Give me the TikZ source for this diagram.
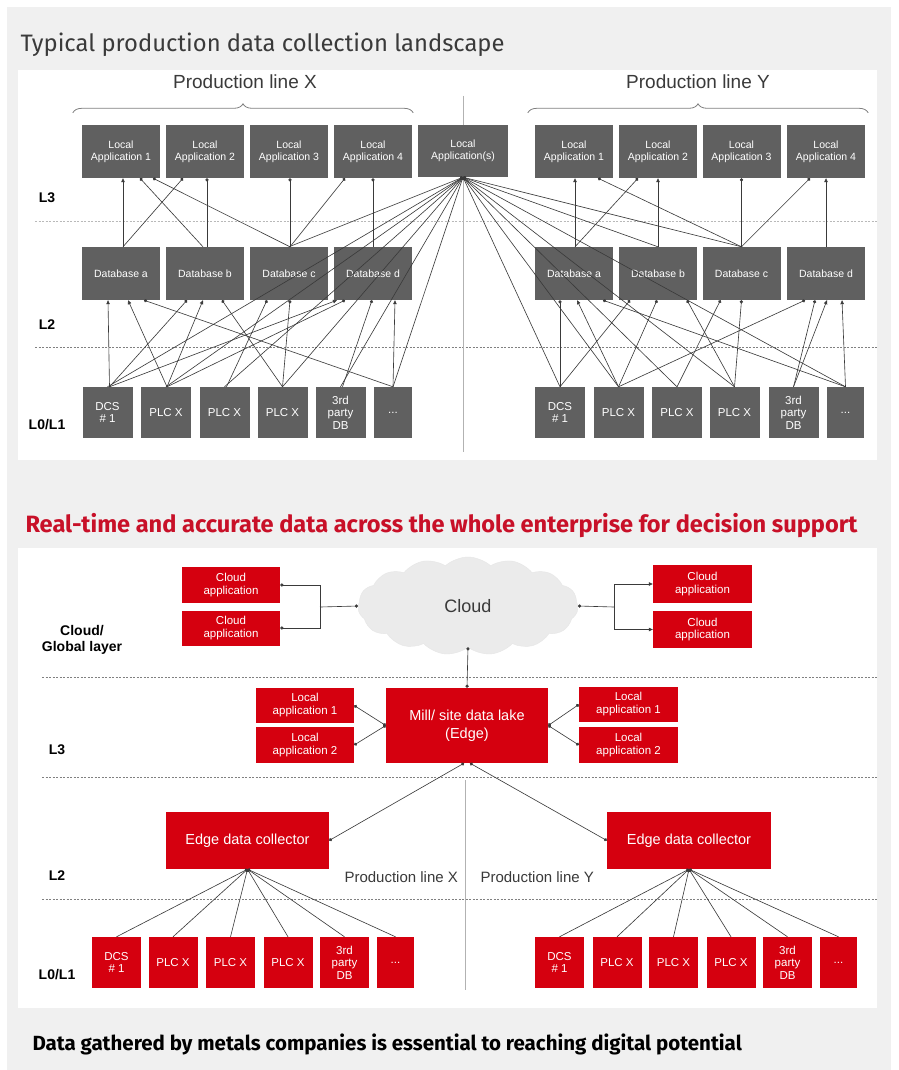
\documentclass[tikz,border=0pt]{standalone}
\usepackage{fontspec}
\setmainfont{Liberation Sans}
\newfontfamily\headfont{Fira Sans}
\usetikzlibrary{arrows.meta,shapes.symbols,decorations.pathreplacing}
\definecolor{bggray}{HTML}{F0F0F0}
\definecolor{boxgray}{HTML}{606060}
\definecolor{boxred}{RGB}{213,0,15}
\definecolor{titlered}{RGB}{200,16,40}
\definecolor{titlegray}{HTML}{3A3A3A}
\definecolor{linegray}{HTML}{3A3A3A}
\definecolor{cloudgray}{HTML}{EBEBEB}
\begin{document}
\begin{tikzpicture}[x=1pt,y=-1pt,
        gbox/.style = {fill=boxgray, text=white, align=center, inner sep=0pt, minimum width=78pt, minimum height=53pt, font=\fontsize{10.5}{12}\selectfont},
        gsmall/.style = {gbox, minimum width=50pt, minimum height=51pt, font=\fontsize{11.5}{12.5}\selectfont},
        rbox/.style = {gbox, fill=boxred},
        rsmall/.style = {gsmall, fill=boxred, minimum width=49pt},
        cloudbox/.style = {shape=cloud, cloud puffs=15, cloud puff arc=85, aspect=2.3, fill=cloudgray, draw=cloudgray!95!gray, minimum width=220pt, minimum height=98pt, inner sep=0pt, text=titlegray, font=\fontsize{18}{20}\selectfont},
        lvl/.style = {font=\bfseries\fontsize{14}{16}\selectfont, align=center},
        line label/.style = {text=titlegray, font=\fontsize{19}{21}\selectfont},
        wire/.style = {draw=linegray, line width=0.62pt},
        dotend/.style = {wire, -{Circle[length=3.2pt]}},
        triend/.style = {wire, -{Triangle[length=4pt,width=3.5pt]}},
        fan/.style = {wire, {Circle[length=3.2pt]}-},
        twoway/.style = {wire, {Circle[length=3.2pt]}-{Circle[length=3.2pt]}},
        layerline/.style = {draw=gray, line width=0.6pt, dash pattern=on 2pt off 1.5pt},
        midline/.style = {draw=gray!60, line width=0.6pt}
    ]
    \useasboundingbox (0,0) rectangle (898,1070);
    \fill[bggray] (7,7) rectangle (891,1070);
    \fill[white] (18,70) rectangle (877,460);
    \fill[white] (18,548) rectangle (877,1008);

    % typical landscape
    \node[anchor=base west, text=titlegray, font=\headfont\fontsize{23.8}{26}\selectfont] (title) at (17,52) {Typical production data collection landscape};
    \node[line label] (plx) at (245,82) {Production line X};
    \node[line label] (ply) at (698,82) {Production line Y};
    \draw[layerline, draw=gray!55] (35,221) -- (877,221);
    \draw[layerline] (35,347) -- (877,347);
    \draw[midline] (463,96) -- (463,452);
    \node[lvl] (l3) at (47,198) {L3};
    \node[lvl] (l2) at (47,325) {L2};
    \node[lvl] (l01) at (47,425) {L0/L1};

    \foreach \i/\px in {1/121,2/205,3/289,4/373}
        \node[gbox] (xa\i) at (\px,151.5) {Local\\Application \i};
    \foreach \i/\px in {1/574,2/658,3/741.5,4/826}
        \node[gbox] (ya\i) at (\px,151.5) {Local\\Application \i};
    \node[gbox, minimum width=90pt, minimum height=52pt] (apps) at (463,151) {Local\\Application(s)};
    \foreach \l/\px in {a/121,b/205,c/289,d/373}
        \node[gbox] (xd\l) at (\px,273.5) {Database \l};
    \foreach \l/\px in {a/574,b/658,c/741.5,d/826}
        \node[gbox] (yd\l) at (\px,273.5) {Database \l};
    \foreach \i/\px/\txt in {1/107.5/{DCS\\\# 1},2/166/PLC X,3/224.5/PLC X,4/282.5/PLC X,5/340.5/{3rd\\party\\DB}}
        \node[gsmall] (xb\i) at (\px,412.5) {\txt};
    \node[gsmall, minimum width=38pt] (xb6) at (393,412.5) {...};
    \foreach \i/\px/\txt in {1/560/{DCS\\\# 1},2/618.5/PLC X,3/677/PLC X,4/734.5/PLC X,5/793.5/{3rd\\party\\DB}}
        \node[gsmall] (yb\i) at (\px,412.5) {\txt};
    \node[gsmall, minimum width=37pt] (yb6) at (845.5,412.5) {...};

    \draw[decorate, decoration={brace, amplitude=9pt}, line width=0.8pt, draw=gray] ([xshift=-9pt,yshift=12pt]xa1.north west) -- ([xshift=1pt,yshift=12pt]xa4.north east);
    \draw[decorate, decoration={brace, amplitude=9pt}, line width=0.8pt, draw=gray] ([xshift=-7pt,yshift=12pt]ya1.north west) -- ([xshift=3pt,yshift=12pt]ya4.north east);

    % L2 -> L3
    \foreach \s/\sx/\t/\tx/\tip in {xda/2/xa1/2/triend, xda/2/xa2/-22/dotend, xdb/2/xa2/2/dotend, xdb/-2/xa1/19/dotend,
            xdc/1/xa1/32/dotend, xdc/1/xa3/1/dotend, xdc/1/xa4/-28/dotend, xdd/0/xa4/0/dotend,
            yda/1/ya1/1/triend, yda/1/ya2/-20/dotend, ydb/0/ya2/0/triend, ydc/0/ya1/24/dotend,
            ydc/0/ya3/0/dotend, ydc/0/ya4/-16/dotend, ydd/0/ya4/0/triend}
        \draw[\tip] ([xshift=\sx pt]\s.north) -- ([xshift=\tx pt]\t.south);
    % L0/L1 -> L2
    \foreach \s/\sx/\t/\tx/\tip in {xb1/2/xda/-13/triend, xb2/1/xda/7/triend, xb6/0/xda/23/dotend, xb1/2/xdb/-18/dotend,
            xb2/1/xdb/-2/triend, xb4/0/xdb/17/dotend, xb3/2/xdc/-22/dotend, xb4/0/xdc/1/dotend,
            xb1/2/xdd/-36/triend, xb2/1/xdd/-28/dotend, xb5/2/xdd/-1/dotend, xb6/0/xdd/22/triend,
            yb1/0/yda/-14/dotend, yb2/0/yda/3/triend, yb6/0/yda/29/dotend, yb1/0/ydb/-28/dotend,
            yb2/0/ydb/-1/dotend, yb4/0/ydb/29/dotend, yb3/0/ydc/-21/dotend, yb4/0/ydc/0/dotend,
            yb2/0/ydd/-21/dotend, yb5/0/ydd/-11/dotend, yb5/0/ydd/1/triend, yb6/0/ydd/16/triend}
        \draw[\tip] ([xshift=\sx pt]\s.north) -- ([xshift=\tx pt]\t.south);
    \foreach \t in {xdc,xb1,xb2,xb3,xb4,xb5,xb6,ydb,ydc,yb1,yb2,yb3,yb4,yb6}
        \draw[fan] (apps.south) -- (\t.north);

    % real-time landscape
    \node[anchor=base west, text=titlered, font=\headfont\bfseries\fontsize{23.6}{26}\selectfont] (subtitle) at (22,532) {Real-time and accurate data across the whole enterprise for decision support};
    \draw[layerline] (42,677) -- (877,677);
    \draw[layerline] (42,777) -- (877,777);
    \draw[layerline] (42,899) -- (877,899);
    \draw[midline] (465,780) -- (465,990);
    \node[lvl] (gl) at (82,640) {Cloud/\\Global layer};
    \node[lvl] (rl3) at (57,750) {L3};
    \node[lvl] (rl2) at (57,876) {L2};
    \node[lvl] (rl01) at (57,975) {L0/L1};

    \node[cloudbox] (cloud) at (468,606) {Cloud};
    \node[rbox, minimum width=98pt, minimum height=36pt, font=\fontsize{11.5}{12.5}\selectfont] (lc1) at (231,585) {Cloud\\application};
    \node[rbox, minimum width=98pt, minimum height=35pt, font=\fontsize{11.5}{12.5}\selectfont] (lc2) at (231,628) {Cloud\\application};
    \node[rbox, minimum width=99pt, minimum height=38pt, font=\fontsize{11.5}{12.5}\selectfont] (rc1) at (702.5,584) {Cloud\\application};
    \node[rbox, minimum width=99pt, minimum height=37pt, font=\fontsize{11.5}{12.5}\selectfont] (rc2) at (702.5,629.5) {Cloud\\application};
    \node[rbox, minimum width=162pt, minimum height=75pt, font=\fontsize{14.5}{18}\selectfont] (lake) at (467,725.5) {Mill/ site data lake\\(Edge)};
    \node[rbox, minimum width=98pt, minimum height=35pt, font=\fontsize{11.5}{13}\selectfont] (ll1) at (305,705.5) {Local\\application 1};
    \node[rbox, minimum width=98pt, minimum height=36pt, font=\fontsize{11.5}{13}\selectfont] (ll2) at (305,745) {Local\\application 2};
    \node[rbox, minimum width=99pt, minimum height=35pt, font=\fontsize{11.5}{13}\selectfont] (rl1) at (628.5,704.5) {Local\\application 1};
    \node[rbox, minimum width=99pt, minimum height=36pt, font=\fontsize{11.5}{13}\selectfont] (rl2) at (628.5,745) {Local\\application 2};
    \node[rbox, minimum width=163pt, minimum height=57pt, font=\fontsize{14.5}{17}\selectfont] (edcx) at (247.5,840.5) {Edge data collector};
    \node[rbox, minimum width=164pt, minimum height=57pt, font=\fontsize{14.5}{17}\selectfont] (edcy) at (689,840.5) {Edge data collector};
    \node[text=titlegray, font=\fontsize{15}{17}\selectfont, anchor=west] (pbx) at (341,877) {Production line X};
    \node[text=titlegray, font=\fontsize{15}{17}\selectfont, anchor=west] (pby) at (477,877) {Production line Y};
    \foreach \i/\px/\txt in {1/116.5/{DCS\\\# 1},2/173/PLC X,3/230.5/PLC X,4/288/PLC X,5/344.5/{3rd\\party\\DB}}
        \node[rsmall] (rxb\i) at (\px,962.5) {\txt};
    \node[rsmall, minimum width=37pt] (rxb6) at (395.5,962.5) {...};
    \foreach \i/\px/\txt in {1/559.5/{DCS\\\# 1},2/617/PLC X,3/673.5/PLC X,4/731/PLC X,5/787.5/{3rd\\party\\DB}}
        \node[rsmall] (ryb\i) at (\px,962.5) {\txt};
    \node[rsmall, minimum width=37pt] (ryb6) at (838.5,962.5) {...};

    \coordinate (jl) at (320,607);
    \coordinate (jr) at (614,607);
    \draw[fan] (cloud.west) -- (jl);
    \draw[dotend] (jl) |- (lc1.east);
    \draw[dotend] (jl) |- (lc2.east);
    \draw[fan] (cloud.east) -- (jr);
    \draw[triend] (jr) |- (rc1.west);
    \draw[triend] (jr) |- (rc2.west);
    \draw[twoway] (lake.north) -- (cloud.south);
    \draw[twoway] (lake.west) -- (ll1.east);
    \draw[twoway] (lake.west) -- (ll2.east);
    \draw[twoway] (lake.east) -- (rl1.west);
    \draw[twoway] (lake.east) -- (rl2.west);
    \draw[twoway] ([xshift=-3pt]lake.south) -- (edcx.east);
    \draw[twoway] ([xshift=3pt]lake.south) -- (edcy.west);
    \foreach \i in {1,...,6} {
        \draw[fan] (edcx.south) -- (rxb\i.north);
        \draw[fan] (edcy.south) -- (ryb\i.north);
    }

    \node[anchor=base west, font=\headfont\bfseries\fontsize{20.5}{23}\selectfont] (caption) at (29,1050) {Data gathered by metals companies is essential to reaching digital potential};
\end{tikzpicture}
\end{document}
